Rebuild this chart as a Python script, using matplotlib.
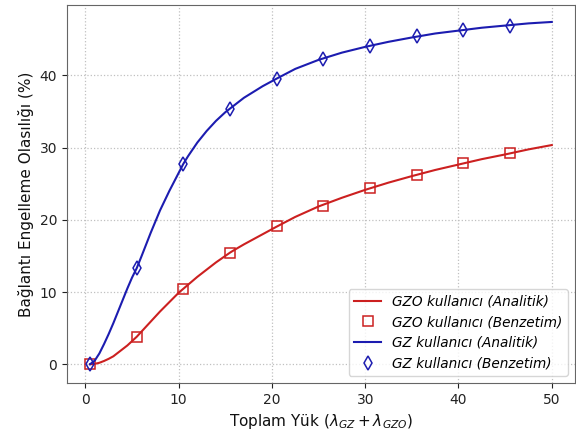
import matplotlib
matplotlib.use("Agg")
import matplotlib.pyplot as plt

# Analytic curves
x_an = [0.5, 1, 1.5, 2, 2.5, 3, 3.5, 4, 4.5, 5, 5.5, 6, 7, 8, 9, 10, 10.5, 11, 12, 13, 14, 15,
        15.5, 16, 17, 18, 19, 20, 20.5, 22.5, 25, 27.5, 30, 32.5, 35, 37.5, 40, 42.5, 45, 47.5, 50]
gzo_an = [0, 0.05, 0.2, 0.45, 0.75, 1.1, 1.6, 2.1, 2.6, 3.2, 3.8, 4.5, 5.9, 7.3, 8.6, 9.9, 10.45,
          11.0, 12.1, 13.1, 14.1, 15.0, 15.45, 15.85, 16.6, 17.3, 18.0, 18.7, 19.05, 20.4, 21.85,
          23.05, 24.15, 25.15, 26.05, 26.9, 27.65, 28.4, 29.05, 29.75, 30.35]
gz_an = [0, 0.5, 1.5, 2.8, 4.2, 5.7, 7.3, 8.9, 10.5, 12.0, 13.3, 14.9, 18.2, 21.3, 24.0, 26.5,
         27.75, 28.8, 30.7, 32.3, 33.7, 34.9, 35.4, 35.9, 36.9, 37.7, 38.5, 39.2, 39.55, 40.9,
         42.15, 43.15, 43.95, 44.65, 45.25, 45.8, 46.2, 46.6, 46.9, 47.2, 47.4]

# Simulation points
x_sim = [0.5, 5.5, 10.5, 15.5, 20.5, 25.5, 30.5, 35.5, 40.5, 45.5]
gzo_sim = [0, 3.8, 10.45, 15.45, 19.1, 21.95, 24.35, 26.2, 27.8, 29.25]
gz_sim = [0, 13.3, 27.75, 35.4, 39.55, 42.3, 44.1, 45.4, 46.25, 46.9]

red = "#cc2020"
blue = "#1c1cb0"

fig = plt.figure(figsize=(5.76, 4.33), dpi=100)
ax = fig.add_axes([0.1163, 0.1155, 0.8817, 0.873])

ax.plot(x_an, gzo_an, color=red, lw=1.5, label="GZO kullanıcı (Analitik)")
ax.plot(x_sim, gzo_sim, ls="none", marker="s", ms=6.5, mfc="none", mec=red, mew=1.1,
        label="GZO kullanıcı (Benzetim)")
ax.plot(x_an, gz_an, color=blue, lw=1.5, label="GZ kullanıcı (Analitik)")
ax.plot(x_sim, gz_sim, ls="none", marker="d", ms=7, mfc="none", mec=blue, mew=1.1,
        label="GZ kullanıcı (Benzetim)")

ax.set_xlim(-1.975, 52.475)
ax.set_ylim(-2.6, 49.75)
ax.set_xticks([0, 10, 20, 30, 40, 50])
ax.set_yticks([0, 10, 20, 30, 40])
ax.grid(True, ls=":", color="#c0c0c0", lw=0.9)
for s in ax.spines.values():
    s.set_color("#666666")
ax.tick_params(colors="#222222", labelsize=10)

ax.set_xlabel(r"Toplam Yük ($\lambda_{GZ} + \lambda_{GZO}$)", fontsize=11, color="#111111")
ax.set_ylabel("Bağlantı Engelleme Olasılığı (%)", fontsize=11, color="#111111")

leg = ax.legend(loc="lower right", prop={"style": "italic", "size": 9.8},
                framealpha=0.8, edgecolor="#cccccc")

fig.savefig("out.png", dpi=100)
